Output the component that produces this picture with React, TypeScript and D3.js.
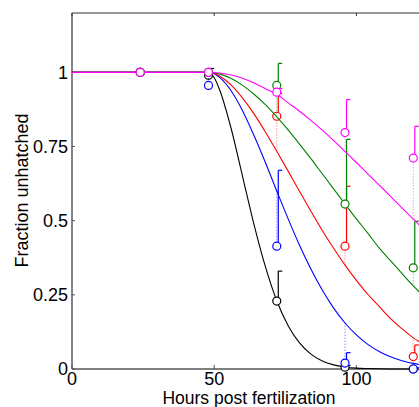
import React from 'react';
import * as d3 from 'd3';

const times = [24, 48, 72, 96, 120];
const fitTimes = [0, 48, 50, 52, 56, 60, 64, 68, 72, 76, 80, 84, 88, 92, 96, 100, 104, 108, 112, 116, 120, 124, 128];

const blackObs = [1, 0.99, 0.229, 0.006, 0];
const blackUpper = [1, 1.013, 0.33, 0.012, 0];
const blackFit = [1, 1, 0.982, 0.939, 0.809, 0.648, 0.487, 0.345, 0.23, 0.146, 0.088, 0.05, 0.027, 0.014, 0.007, 0.003, 0.0015, 0.0006, 0.0002, 0.0001, 0, 0, 0];

const blueObs = [1, 0.956, 0.414, 0.02, 0];
const blueUpper = [1, 0.956, 0.67, 0.055, 0.005];
const blueFit = [1, 1, 0.995, 0.982, 0.937, 0.87, 0.787, 0.696, 0.6, 0.506, 0.417, 0.337, 0.266, 0.205, 0.155, 0.115, 0.083, 0.059, 0.041, 0.028, 0.019, 0.012, 0.008];

const redObs = [1, 1, 0.852, 0.414, 0.042];
const redUpper = [1, 1, 0.929, 0.616, 0.081];
const redFit = [1, 1, 0.996, 0.987, 0.957, 0.913, 0.86, 0.799, 0.734, 0.667, 0.599, 0.532, 0.467, 0.407, 0.35, 0.299, 0.252, 0.211, 0.17, 0.136, 0.105, 0.082, 0.064];

const greenObs = [1, 1, 0.956, 0.556, 0.341];
const greenUpper = [1, 1, 1.03, 0.774, 0.498];
const greenFit = [1, 1, 0.998, 0.994, 0.979, 0.956, 0.926, 0.891, 0.85, 0.806, 0.758, 0.709, 0.658, 0.607, 0.556, 0.506, 0.458, 0.408, 0.365, 0.322, 0.28, 0.243, 0.21];

const magentaObs = [1, 1, 0.933, 0.797, 0.711];
const magentaUpper = [1, 1, 0.945, 0.908, 0.818];
const magentaFit = [1, 1, 0.999, 0.998, 0.991, 0.98, 0.964, 0.945, 0.926, 0.897, 0.869, 0.838, 0.805, 0.77, 0.733, 0.696, 0.658, 0.62, 0.582, 0.543, 0.505, 0.468, 0.432];

const xTicks = [0, 50, 100];
const yTicks = [0, 0.25, 0.5, 0.75, 1];
const yTickLabels = ['0', '0.25', '0.5', '0.75', '1'];

const series = [
  { color: '#000000', obs: blackObs, upper: blackUpper, fit: blackFit },
  { color: '#0000ff', obs: blueObs, upper: blueUpper, fit: blueFit },
  { color: '#ff0000', obs: redObs, upper: redUpper, fit: redFit },
  { color: '#008000', obs: greenObs, upper: greenUpper, fit: greenFit },
  { color: '#ff00ff', obs: magentaObs, upper: magentaUpper, fit: magentaFit },
];

const W = 419;
const H = 407;
const FONT = '"Liberation Sans", Arial, Helvetica, sans-serif';

export default function App() {
  const x = d3.scaleLinear().domain([0, 150]).range([72, 72 + 150 * 2.844]);
  const y = d3.scaleLinear().domain([0, 1.2]).range([369, 13]);
  const line = d3
    .line<[number, number]>()
    .x((d) => x(d[0]))
    .y((d) => y(d[1]))
    .curve(d3.curveMonotoneX);

  const x0 = x.range()[0];
  const x1 = x.range()[1];
  const yB = y(0);
  const yT = y(1.2);

  return (
    <svg
      width={W}
      height={H}
      style={{ position: 'absolute', left: 0, top: 0, background: '#fff' }}
      fontFamily={FONT}
    >
      <rect x={0} y={0} width={W} height={H} fill="#fff" />
      <line x1={x0} x2={x1} y1={yT} y2={yT} stroke="#333" strokeWidth={1.2} />
      <line x1={x0} x2={x1} y1={yB} y2={yB} stroke="#555" strokeWidth={1.6} />
      <line x1={x0} x2={x0} y1={yT} y2={yB} stroke="#666" strokeWidth={1.6} />
      {xTicks.map((t) => (
        <g key={'xt' + t}>
          <line x1={x(t)} x2={x(t)} y1={yB} y2={yB - 4} stroke="#555" strokeWidth={1} />
          <line x1={x(t)} x2={x(t)} y1={yT} y2={yT + 3} stroke="#333" strokeWidth={1} />
          <text x={x(t)} y={385} textAnchor="middle" fontSize={18} fill="#000">
            {t}
          </text>
        </g>
      ))}
      {yTicks.map((t, i) => (
        <g key={'yt' + t}>
          <line x1={x0} x2={x0 + 3} y1={y(t)} y2={y(t)} stroke="#555" strokeWidth={1} />
          <text x={68} y={y(t)} dy="0.35em" textAnchor="end" fontSize={18} fill="#000">
            {yTickLabels[i]}
          </text>
        </g>
      ))}
      <text x={249} y={404} textAnchor="middle" fontSize={17.5} fill="#000">
        Hours post fertilization
      </text>
      <text
        transform={`translate(28,190.5) rotate(-90)`}
        textAnchor="middle"
        fontSize={18}
        fill="#000"
      >
        Fraction unhatched
      </text>

      {series.map((s, si) => {
        const pts = fitTimes.map((t, i) => [t, s.fit[i]] as [number, number]);
        return (
          <g key={'s' + si}>
            <path d={line(pts) || ''} fill="none" stroke={s.color} strokeWidth={1.1} />
            {times.map((t, i) => {
              const fi = fitTimes.indexOf(t);
              const fv = s.fit[fi];
              const o = s.obs[i];
              const u = s.upper[i];
              const px = x(t);
              return (
                <g key={'p' + i}>
                  {Math.abs(fv - o) > 0.005 && (
                    <line
                      x1={px}
                      x2={px}
                      y1={y(o)}
                      y2={y(fv)}
                      stroke={s.color}
                      strokeOpacity={0.45}
                      strokeWidth={1}
                      strokeDasharray="1.5 1.5"
                    />
                  )}
                  {u - o > 0.003 && (
                    <g>
                      <line x1={px + 1.5} x2={px + 1.5} y1={y(o)} y2={y(u)} stroke={s.color} strokeWidth={1.2} />
                      <line x1={px + 1.5} x2={px + 5.5} y1={y(u)} y2={y(u)} stroke={s.color} strokeWidth={1.2} />
                    </g>
                  )}
                  <circle cx={px} cy={y(o)} r={4} fill="#fff" stroke={s.color} strokeWidth={1.2} />
                </g>
              );
            })}
          </g>
        );
      })}
    </svg>
  );
}
